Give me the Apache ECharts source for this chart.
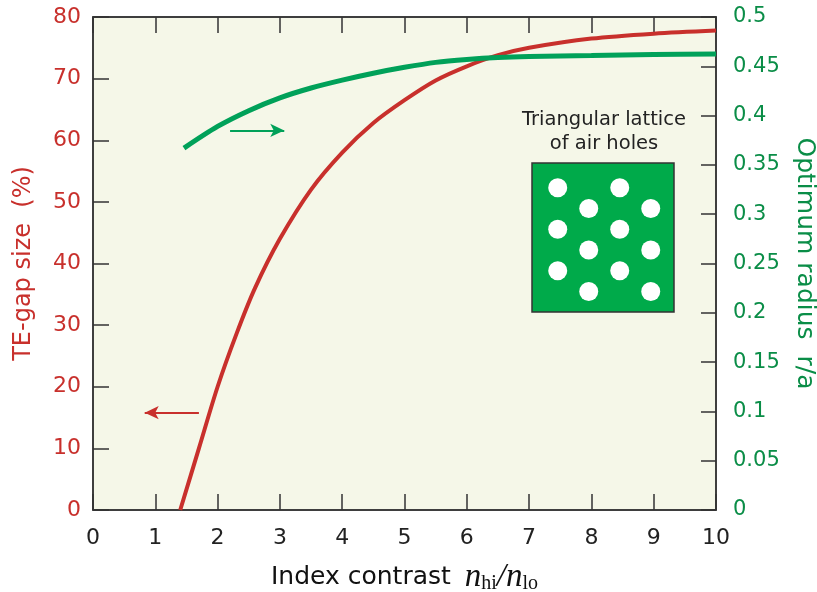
<!DOCTYPE html>
<html>
<head>
<meta charset="utf-8">
<script src="https://cdn.jsdelivr.net/npm/echarts@6/dist/echarts.min.js"></script>
<style>
  html, body { margin: 0; padding: 0; background: #fff; }
  #main { width: 817px; height: 592px; }
</style>
</head>
<body>
<div id="main"></div>
<script>
// TE-gap size (%) vs index contrast, left axis
const gapX = [1.4, 1.7, 2.0, 2.3, 2.6, 3.0, 3.5, 4.0, 4.5, 5.0, 5.5, 6.0, 6.5, 7.0, 8.0, 9.0, 10.0];
const gapY = [0, 10, 20, 28.5, 36, 44, 52, 58, 62.8, 66.5, 69.7, 72.0, 73.8, 75.0, 76.5, 77.3, 77.8];

// optimum radius r/a vs index contrast, right axis
const radX = [1.46, 2.0, 2.5, 3.0, 3.5, 4.0, 4.5, 5.0, 5.5, 6.0, 6.5, 7.0, 8.0, 9.0, 10.0];
const radY = [0.367, 0.389, 0.405, 0.418, 0.428, 0.436, 0.443, 0.449, 0.454, 0.457, 0.459, 0.460, 0.461, 0.462, 0.4625];

// inset: triangular lattice holes (column, row)
const holeCol = [0, 0, 0, 1, 1, 1, 2, 2, 2, 3, 3, 3];
const holeRow = [0, 1, 2, 0.5, 1.5, 2.5, 0, 1, 2, 0.5, 1.5, 2.5];

const RED = '#c8302c';
const GREEN = '#00a159';
const GREEN_TXT = '#0a8d47';
const FONT = 'DejaVu Sans';

const zip = (xs, ys) => xs.map((x, i) => [x, ys[i]]);

const axisLine = { onZero: false, lineStyle: { color: '#333', width: 1.5 } };
const tick = (len) => ({ inside: true, length: len, lineStyle: { color: '#333', width: 1.5 } });

const chart = echarts.init(document.getElementById('main'));

const option = {
  animation: false,
  textStyle: { fontFamily: FONT },
  grid: [
    {
      left: 93, top: 17, right: 101, bottom: 82, outerBoundsMode: 'none',
      show: true, backgroundColor: '#f5f7e8', borderColor: '#333', borderWidth: 1.5
    },
    {
      left: 532, top: 163, width: 142, height: 149, outerBoundsMode: 'none',
      show: true, backgroundColor: '#00aa4a', borderColor: '#333', borderWidth: 1.5
    }
  ],
  xAxis: [
    {
      type: 'value', gridIndex: 0, min: 0, max: 10, interval: 1,
      name: '{a|Index contrast}{g|}{n|n}{s|hi}{n|/n}{s|lo}',
      nameLocation: 'middle', nameGap: 50,
      nameTextStyle: {
        rich: {
          a: { fontFamily: FONT, fontSize: 25, color: '#111' },
          g: { width: 14 },
          n: { fontFamily: 'Liberation Serif', fontStyle: 'italic', fontSize: 33, color: '#111' },
          s: { fontFamily: 'Liberation Serif', fontSize: 20, color: '#111', padding: [14, 0, 0, 0] }
        }
      },
      axisLine: axisLine,
      axisTick: tick(16),
      axisLabel: { color: '#222', fontSize: 22, margin: 17 },
      splitLine: { show: false }
    },
    {
      type: 'value', gridIndex: 0, position: 'top', min: 0, max: 10, interval: 1,
      axisLine: axisLine,
      axisTick: tick(16),
      axisLabel: { show: false },
      splitLine: { show: false }
    },
    {
      type: 'value', gridIndex: 1, min: -0.83, max: 3.75, show: false
    }
  ],
  yAxis: [
    {
      type: 'value', gridIndex: 0, min: 0, max: 80, interval: 10,
      name: 'TE-gap size  (%)', nameLocation: 'middle', nameGap: 57, nameRotate: 90,
      nameTextStyle: { color: RED, fontSize: 24 },
      axisLine: axisLine,
      axisTick: tick(16),
      axisLabel: { color: RED, fontSize: 22, margin: 12 },
      splitLine: { show: false }
    },
    {
      type: 'value', gridIndex: 0, position: 'right', min: 0, max: 0.5, interval: 0.05,
      name: 'Optimum radius  r/a', nameLocation: 'middle', nameGap: 76, nameRotate: -90,
      nameTextStyle: { color: GREEN_TXT, fontSize: 25 },
      axisLine: axisLine,
      axisTick: tick(15),
      axisLabel: { color: GREEN_TXT, fontSize: 21, margin: 17 },
      splitLine: { show: false }
    },
    {
      type: 'value', gridIndex: 1, min: -0.595, max: 2.995, inverse: true, show: false
    }
  ],
  series: [
    {
      name: 'TE gap', type: 'line', xAxisIndex: 0, yAxisIndex: 0,
      data: zip(gapX, gapY), smooth: 0.3, showSymbol: false,
      lineStyle: { color: RED, width: 4 },
      markLine: {
        silent: true, symbol: ['none', 'arrow'], symbolSize: [10, 14],
        label: { show: false },
        lineStyle: { color: RED, width: 2, type: 'solid' },
        data: [[{ coord: [1.70, 15.8] }, { coord: [0.83, 15.8] }]]
      }
    },
    {
      name: 'radius', type: 'line', xAxisIndex: 0, yAxisIndex: 1,
      data: zip(radX, radY), smooth: 0.3, showSymbol: false,
      lineStyle: { color: GREEN, width: 5 },
      markLine: {
        silent: true, symbol: ['none', 'arrow'], symbolSize: [10, 14],
        label: { show: false },
        lineStyle: { color: GREEN, width: 2, type: 'solid' },
        data: [[{ coord: [2.2, 0.385] }, { coord: [3.07, 0.385] }]]
      }
    },
    {
      name: 'holes', type: 'scatter', xAxisIndex: 2, yAxisIndex: 2,
      data: zip(holeCol, holeRow), symbolSize: 19,
      itemStyle: { color: '#fff', opacity: 1 }, silent: true
    }
  ],
  graphic: [
    {
      type: 'text', x: 604, y: 108,
      style: {
        text: 'Triangular lattice\nof air holes',
        align: 'center', verticalAlign: 'top',
        fontFamily: FONT, fontSize: 19.5, lineHeight: 24, fill: '#222'
      }
    }
  ]
};

chart.setOption(option);
</script>
</body>
</html>
